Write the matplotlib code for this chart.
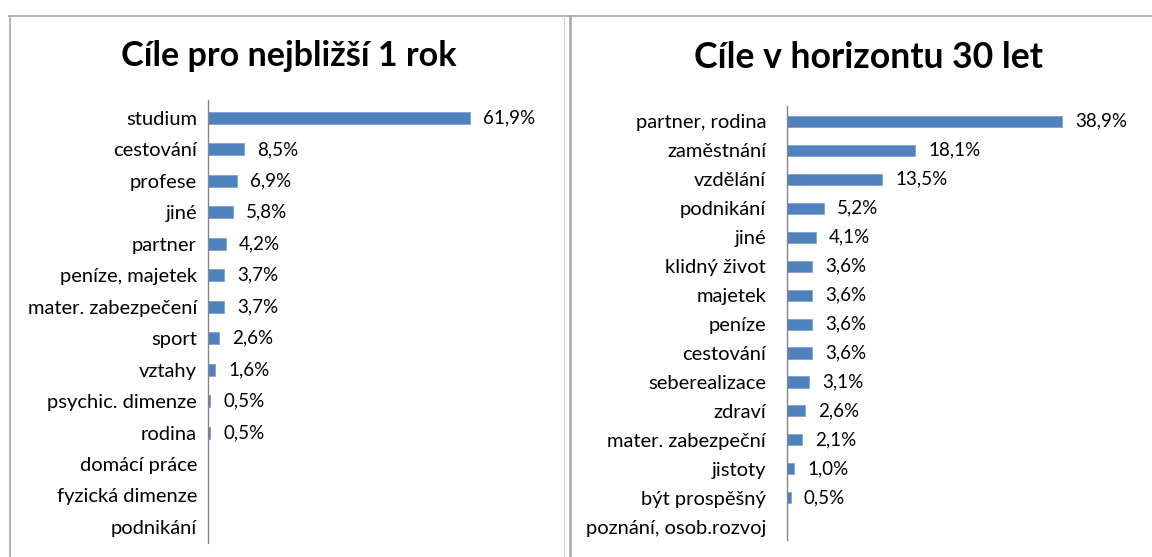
import matplotlib
matplotlib.use("Agg")
import matplotlib.pyplot as plt
from matplotlib.lines import Line2D

plt.rcParams['font.family'] = ['Lato', 'DejaVu Sans']

left_title = "Cíle pro nejbližší 1 rok"
left_categories = ["studium", "cestování", "profese", "jiné", "partner", "peníze, majetek",
                   "mater. zabezpečení", "sport", "vztahy", "psychic. dimenze", "rodina",
                   "domácí práce", "fyzická dimenze", "podnikání"]
left_values = [61.9, 8.5, 6.9, 5.8, 4.2, 3.7, 3.7, 2.6, 1.6, 0.5, 0.5, None, None, None]

right_title = "Cíle v horizontu 30 let"
right_categories = ["partner, rodina", "zaměstnání", "vzdělání", "podnikání", "jiné",
                    "klidný život", "majetek", "peníze", "cestování", "seberealizace",
                    "zdraví", "mater. zabezpeční", "jistoty", "být prospěšný",
                    "poznání, osob.rozvoj"]
right_values = [38.9, 18.1, 13.5, 5.2, 4.1, 3.6, 3.6, 3.6, 3.6, 3.1, 2.6, 2.1, 1.0, 0.5, None]

W, H = 1152, 557
fig = plt.figure(figsize=(W / 100, H / 100), dpi=100)

BAR = "#4F81BD"
AXC = "#868686"


def px_axes(x0, y0, x1, y1):
    return fig.add_axes([x0 / W, 1 - y1 / H, (x1 - x0) / W, (y1 - y0) / H])


def draw(ax, cats, vals, xmax, top_pad, bot_pad, fs_label, fs_val, pad):
    n = len(cats)
    ys = list(range(n))
    bars_v = [v if v is not None else 0 for v in vals]
    ax.barh(ys, bars_v, height=0.38, color=BAR, edgecolor="#7FA3D0", linewidth=0.6)
    ax.set_xlim(0, xmax)
    ax.set_ylim(n - 1 + bot_pad, -top_pad)
    ax.set_yticks(ys)
    ax.set_yticklabels(cats, fontsize=fs_label, color="#000000")
    ax.tick_params(axis="y", length=0, pad=pad)
    ax.set_xticks([])
    for s in ["top", "right", "bottom"]:
        ax.spines[s].set_visible(False)
    ax.spines["left"].set_color(AXC)
    ax.spines["left"].set_linewidth(1.0)
    ax.patch.set_alpha(0)
    for y, v in zip(ys, vals):
        if v is not None:
            ax.annotate(f"{v:.1f}%".replace(".", ","), (v, y), xytext=(9.5, 0),
                        textcoords="offset points", va="center", ha="left",
                        fontsize=fs_val, color="#000000")


axL = px_axes(208, 100, 208 + 70 * 4.23, 543)
draw(axL, left_categories, left_values, 70, 0.57, 0.51, 14.5, 13.5, 8)

axR = px_axes(787, 106, 787 + 45 * 7.07, 540)
draw(axR, right_categories, right_values, 45, 0.52, 0.45, 14.5, 13.5, 15)

fig.text(289 / W, 1 - 56 / H, left_title, ha="center", va="center",
         fontsize=24.6, fontweight="bold")
fig.text(868 / W, 1 - 58 / H, right_title, ha="center", va="center",
         fontsize=25.7, fontweight="bold")

# panel borders
bc = "#A6A6A6"
fig.add_artist(Line2D([9 / W, 1], [1 - 16 / H, 1 - 16 / H], color=bc, lw=1.2, transform=fig.transFigure))
fig.add_artist(Line2D([9.5 / W, 9.5 / W], [0, 1 - 16 / H], color=bc, lw=1.2, transform=fig.transFigure))
fig.add_artist(Line2D([564 / W, 564 / W], [0, 1 - 16 / H], color="#D0D0D0", lw=0.8, transform=fig.transFigure))
fig.add_artist(Line2D([570 / W, 570 / W], [0, 1 - 16 / H], color=bc, lw=1.8, transform=fig.transFigure))

fig.savefig("out.png", dpi=100)
